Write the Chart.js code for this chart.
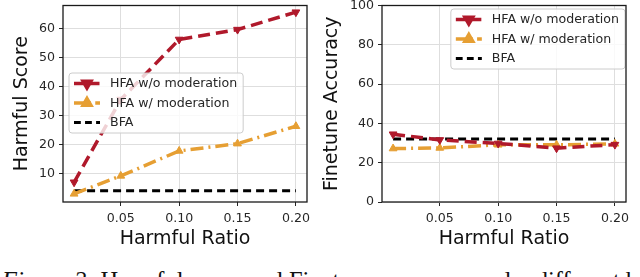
<!DOCTYPE html>
<html>
<head>
<meta charset="utf-8">
<script src="https://cdn.jsdelivr.net/npm/chart.js@4.4.1/dist/chart.umd.min.js"></script>
<style>
  html, body { margin: 0; padding: 0; background: #fff; }
  body { width: 640px; height: 277px; position: relative; overflow: hidden; }
  canvas { position: absolute; top: 0; }
  #left { left: 0; }
  #right { left: 320px; }
  #caption {
    position: absolute; left: 2px; top: 269px; white-space: nowrap;
    font-family: "Liberation Serif", serif; font-size: 24.5px; line-height: 1; color: #111;
  }
</style>
</head>
<body>
<canvas id="left" width="320" height="250"></canvas>
<canvas id="right" width="320" height="250"></canvas>
<div id="caption"><i>Figure 2:</i> Harmful score and Finetune accuracy under different harmful ratios.</div>
<script>
// values
const ratios = [0.01, 0.05, 0.10, 0.15, 0.20];
const ratioTicks = [0.05, 0.10, 0.15, 0.20];

const scoreWithout = [7.0, 35.5, 56.2, 59.6, 65.6];
const scoreWith = [3.0, 9.2, 17.8, 20.3, 26.3];
const scoreBfa = [4.1, 4.1, 4.1, 4.1, 4.1];
const scoreTicks = [10, 20, 30, 40, 50, 60];

const accWithout = [34.5, 31.6, 29.8, 27.4, 29.2];
const accWith = [27.2, 27.5, 29.1, 29.1, 29.6];
const accBfa = [32.1, 32.1, 32.1, 32.1, 32.1];
const accTicks = [0, 20, 40, 60, 80, 100];

const labels = ["HFA w/o moderation", "HFA w/ moderation", "BFA"];

const RED = "#b0192b";
const ORANGE = "#e69f33";

Chart.defaults.font.family = "DejaVu Sans";

function points(ys) {
  return ratios.map((x, i) => ({ x: x, y: ys[i] }));
}

function makeDatasets(wo, w, bfa) {
  return [
    {
      label: labels[0], data: points(wo), borderColor: RED, backgroundColor: RED,
      borderWidth: 3.5, borderDash: [12, 6], pointStyle: "triangle", pointRotation: 180,
      pointRadius: 4.5, pointBorderWidth: 1,
    },
    {
      label: labels[1], data: points(w), borderColor: ORANGE, backgroundColor: ORANGE,
      borderWidth: 3.5, borderDash: [13, 5, 2, 5], pointStyle: "triangle",
      pointRadius: 4.5, pointBorderWidth: 1,
    },
    {
      label: labels[2], data: points(bfa), borderColor: "#000", backgroundColor: "#000",
      borderWidth: 3, borderDash: [8, 5], pointRadius: 0,
    },
  ];
}

// matplotlib-like frame round the plot area
const framePlugin = {
  id: "frame",
  afterDraw(chart) {
    const { ctx, chartArea: a } = chart;
    ctx.save();
    ctx.strokeStyle = "#1a1a1a";
    ctx.lineWidth = 1.3;
    ctx.strokeRect(a.left, a.top, a.right - a.left, a.bottom - a.top);
    ctx.restore();
  },
};

// legend drawn inside the axes, semi transparent like matplotlib
const innerLegend = {
  id: "innerLegend",
  afterDatasetsDraw(chart, args, opts) {
    const ctx = chart.ctx;
    const sets = chart.data.datasets;
    ctx.save();
    ctx.font = "12.6px DejaVu Sans";
    const textW = Math.max(...sets.map((d) => ctx.measureText(d.label).width));
    const w = 41 + textW + 6;
    const h = 60;
    const x = opts.right ? opts.x - w : opts.x;
    const y = opts.y;

    ctx.beginPath();
    ctx.roundRect(x, y, w, h, 3);
    ctx.fillStyle = "rgba(255,255,255,0.8)";
    ctx.fill();
    ctx.strokeStyle = "#cccccc";
    ctx.lineWidth = 1;
    ctx.stroke();

    sets.forEach((d, i) => {
      const cy = y + 10.5 + i * 19.5;
      ctx.beginPath();
      ctx.setLineDash(d.borderDash.map((v) => v * 0.85));
      ctx.strokeStyle = d.borderColor;
      ctx.lineWidth = d.borderWidth;
      ctx.moveTo(x + 5, cy);
      ctx.lineTo(x + 31, cy);
      ctx.stroke();
      ctx.setLineDash([]);
      if (d.pointRadius > 0) {
        Chart.helpers.drawPoint(ctx, {
          pointStyle: "triangle", rotation: d.pointRotation || 0, radius: d.pointRadius,
          borderWidth: 1,
        }, x + 18, cy);
        ctx.fillStyle = d.backgroundColor;
        ctx.fill();
      }
      ctx.fillStyle = "#262626";
      ctx.textBaseline = "middle";
      ctx.fillText(d.label, x + 41, cy + 0.5);
    });
    ctx.restore();
  },
};

function makeChart(id, cfg) {
  const tickFont = { size: 12.6 };
  return new Chart(document.getElementById(id), {
    type: "line",
    data: { datasets: makeDatasets(cfg.wo, cfg.w, cfg.bfa) },
    options: {
      responsive: false,
      animation: false,
      devicePixelRatio: 1,
      layout: { padding: cfg.padding },
      plugins: {
        legend: { display: false },
        tooltip: { enabled: false },
        innerLegend: cfg.legend,
      },
      scales: {
        x: {
          type: "linear",
          min: 0.0005,
          max: 0.2095,
          afterBuildTicks: (s) => { s.ticks = ratioTicks.map((v) => ({ value: v })); },
          afterFit: (s) => { s.height = 48; s.paddingLeft = 0; s.paddingRight = 0; },
          ticks: { font: tickFont, color: "#262626", padding: 5, callback: (v) => v.toFixed(2) },
          grid: { color: "#dedede", tickColor: "#262626", tickLength: 4 },
          border: { display: false },
          title: { display: true, text: "Harmful Ratio", font: { size: 19 }, color: "#111", padding: 0 },
        },
        y: {
          min: cfg.yMin,
          max: cfg.yMax,
          afterBuildTicks: (s) => { s.ticks = cfg.yTicks.map((v) => ({ value: v })); },
          afterFit: (s) => { s.width = cfg.yWidth; s.paddingTop = 0; s.paddingBottom = 0; },
          ticks: { font: tickFont, color: "#262626", padding: 4 },
          grid: { color: "#dedede", tickColor: "#262626", tickLength: 4 },
          border: { display: false },
          title: { display: true, text: cfg.yTitle, font: { size: 19 }, color: "#111", padding: 0 },
        },
      },
    },
    plugins: [innerLegend, framePlugin],
  });
}

makeChart("left", {
  wo: scoreWithout, w: scoreWith, bfa: scoreBfa,
  yMin: 0.2, yMax: 67.9, yTicks: scoreTicks, yTitle: "Harmful Score",
  padding: { left: 10.5, right: 13, top: 5, bottom: 0 }, yWidth: 52.5,
  legend: { x: 69, y: 73, right: false },
});

makeChart("right", {
  wo: accWithout, w: accWith, bfa: accBfa,
  yMin: 0, yMax: 100, yTicks: accTicks, yTitle: "Finetune Accuracy",
  padding: { left: 1, right: 14, top: 4, bottom: 0 }, yWidth: 61,
  legend: { x: 305, y: 9, right: true },
});
</script>
</body>
</html>
